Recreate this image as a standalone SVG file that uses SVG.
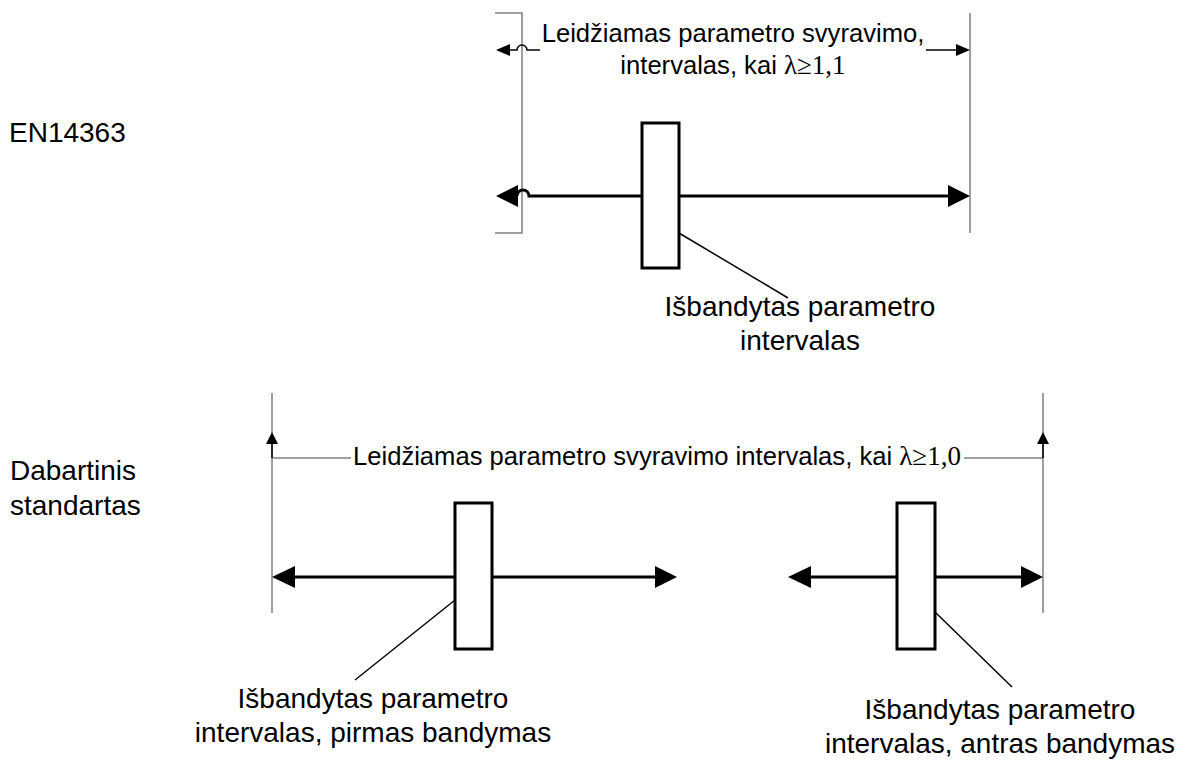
<svg xmlns="http://www.w3.org/2000/svg" width="1190" height="762" viewBox="0 0 1190 762">
<style>
.bg{fill:#ffffff}
.gray{fill:none;stroke:#808080;stroke-width:1.5}
.thin{fill:none;stroke:#000;stroke-width:1.5}
.thick{fill:none;stroke:#000;stroke-width:3}
.head{fill:#000;stroke:none}
.box{fill:#ffffff;stroke:#000;stroke-width:3}
.lbl{font-family:"Liberation Sans",Arial,sans-serif;font-size:28px;fill:#000}
.dim{font-family:"Liberation Sans",Arial,sans-serif;font-size:25.6px;fill:#000}
.sym{font-family:"Liberation Serif","Times New Roman",serif}
</style>
<rect class="bg" x="0" y="0" width="1190" height="762"/>
<g id="connectors">
  <path class="gray" d="M495,13 L522,13 L522,233 L495,233"/>
  <path class="gray" d="M970,13 L970,233"/>
  <path class="thin" d="M510,50 L517,50 A5,5 0 0 1 527,50 L540,50"/>
  <polygon class="head" points="496,50 510,44 510,56"/>
  <path class="thin" d="M926,50 L956,50"/>
  <polygon class="head" points="970,50 956,44 956,56"/>
  <path class="thick" d="M517,196 A6,6 0 0 1 529,196 L948,196"/>
  <polygon class="head" points="496,196 518,185 518,207"/>
  <polygon class="head" points="970,196 948,185 948,207"/>
  <path class="thin" d="M679,233 L788,298"/>
  <path class="gray" d="M272,393 L272,613"/>
  <path class="gray" d="M1043,393 L1043,613"/>
  <path class="gray" d="M272,458 L351,458"/>
  <path class="gray" d="M964,458 L1043,458"/>
  <path class="thin" d="M272,458 L272,444"/>
  <polygon class="head" points="272,432 266,444 278,444"/>
  <path class="thin" d="M1043,458 L1043,444"/>
  <polygon class="head" points="1043,432 1037,444 1049,444"/>
  <path class="thick" d="M295,577 L655,577"/>
  <polygon class="head" points="272,577 295,566 295,588"/>
  <polygon class="head" points="677,577 655,566 655,588"/>
  <path class="thick" d="M811,577 L1021,577"/>
  <polygon class="head" points="788,577 811,566 811,588"/>
  <polygon class="head" points="1043,577 1021,566 1021,588"/>
  <path class="thin" d="M455,600 L355,680"/>
  <path class="thin" d="M935,612 L1012,687"/>
</g>
<g id="label-en14363">
  <text class="lbl" x="9" y="142" font-size="30">EN14363</text>
</g>
<g id="label-dabartinis">
  <text class="lbl" x="10" y="480">Dabartinis</text>
  <text class="lbl" x="10" y="515">standartas</text>
</g>
<g id="top-range-label">
  <text class="dim" x="733" y="42" text-anchor="middle">Leidžiamas parametro svyravimo,</text>
  <text class="dim" x="733" y="74" text-anchor="middle">intervalas, kai <tspan class="sym" font-size="27">λ≥1,1</tspan></text>
</g>
<g id="top-box">
  <rect class="box" x="642" y="123" width="37" height="145"/>
</g>
<g id="top-tested-label">
  <text class="lbl" x="800" y="316" text-anchor="middle">Išbandytas parametro</text>
  <text class="lbl" x="800" y="350" text-anchor="middle">intervalas</text>
</g>
<g id="bottom-range-label">
  <text class="dim" x="353" y="465">Leidžiamas parametro svyravimo intervalas, kai <tspan class="sym" font-size="27">λ≥1,0</tspan></text>
</g>
<g id="box-1">
  <rect class="box" x="455" y="503" width="37" height="146"/>
</g>
<g id="box-2">
  <rect class="box" x="897" y="503" width="38" height="146"/>
</g>
<g id="label-first">
  <text class="lbl" x="373" y="708" text-anchor="middle">Išbandytas parametro</text>
  <text class="lbl" x="373" y="742" text-anchor="middle">intervalas, pirmas bandymas</text>
</g>
<g id="label-second">
  <text class="lbl" x="1000" y="719" text-anchor="middle">Išbandytas parametro</text>
  <text class="lbl" x="1000" y="753" text-anchor="middle">intervalas, antras bandymas</text>
</g>
</svg>
